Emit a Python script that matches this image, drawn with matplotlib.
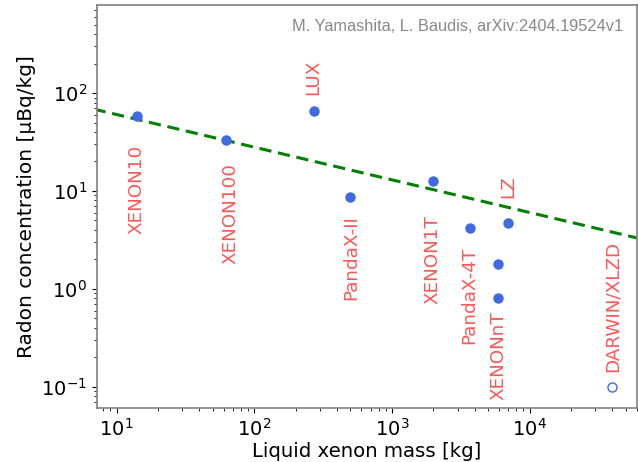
import matplotlib
matplotlib.use("Agg")
import matplotlib.pyplot as plt
import numpy as np

# Data
experiments = ["XENON10", "XENON100", "LUX", "PandaX-II", "XENON1T",
               "PandaX-4T", "XENONnT", "XENONnT", "LZ"]
mass_kg = [14, 62, 270, 500, 2000, 3700, 5900, 5900, 7000]
radon = [58, 33.5, 66, 8.7, 12.7, 4.2, 1.8, 0.81, 4.7]

future_name = "DARWIN/XLZD"
future_mass = [40000]
future_radon = [0.1]

trend_mass = [5, 100000]
trend_radon = [76, 2.8]

label_names = ["XENON10", "XENON100", "LUX", "PandaX-II", "XENON1T",
               "PandaX-4T", "LZ", "XENONnT", "DARWIN/XLZD"]
label_x = [13.9, 67, 270, 506, 1970, 3660, 7000, 5940, 40000]
label_y = [29.5, 19.4, 95, 5.7, 5.7, 2.7, 8.4, 0.59, 0.143]
label_va = ["top", "top", "bottom", "top", "top", "top", "bottom", "top", "bottom"]

fig = plt.figure(figsize=(6.38, 4.62), dpi=100)
ax = fig.add_axes([0.152, 0.117, 0.846, 0.872])

ax.plot(trend_mass, trend_radon, "--", color="green", lw=2.2, dashes=(4, 2.2))
ax.plot(mass_kg, radon, "o", color="royalblue", ms=6.5, ls="none")
ax.plot(future_mass, future_radon, "o", mfc="none", mec="royalblue", ms=6.5, ls="none")

for n, x, y, va in zip(label_names, label_x, label_y, label_va):
    ax.text(x, y, n, rotation=90, ha="center", va=va, color="#ff4444",
            fontsize=13.2, alpha=0.9)

ax.set_xscale("log")
ax.set_yscale("log")
ax.set_xlim(7.2, 60000)
ax.set_ylim(0.061, 790)
ax.set_xlabel("Liquid xenon mass [kg]", fontsize=14.2, labelpad=2)
ax.set_ylabel("Radon concentration [µBq/kg]", fontsize=14.5)
ax.tick_params(labelsize=14)
for s in ax.spines.values():
    s.set_color("#808080")
    s.set_linewidth(1.2)

ax.text(0.975, 0.965, "M. Yamashita, L. Baudis, arXiv:2404.19524v1",
        transform=ax.transAxes, ha="right", va="top", color="#888888",
        fontsize=11.8, family="Liberation Sans")

fig.savefig("out.png", dpi=100)
